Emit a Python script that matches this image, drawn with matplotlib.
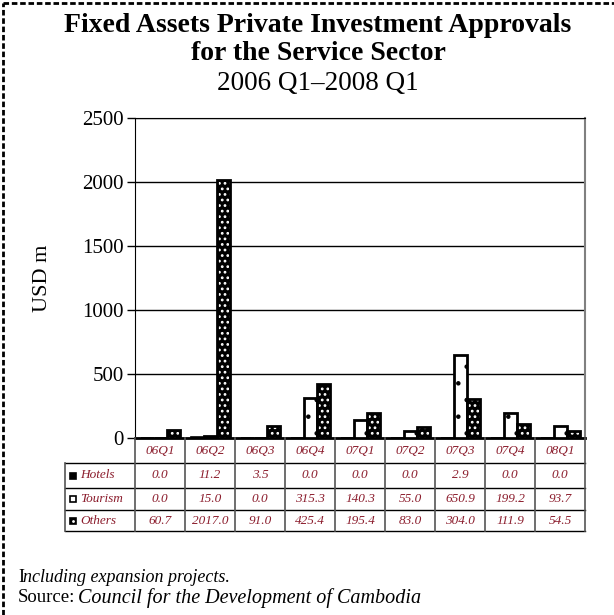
import matplotlib
matplotlib.use('Agg')
import matplotlib.pyplot as plt
import numpy as np
from matplotlib.lines import Line2D

QUARTERS: list[str] = ['06Q1', '06Q2', '06Q3', '06Q4', '07Q1', '07Q2', '07Q3', '07Q4', '08Q1']
HOTELS: list[float] = [0.0, 11.2, 3.5, 0.0, 0.0, 0.0, 2.9, 0.0, 0.0]
TOURISM: list[float] = [0.0, 15.0, 0.0, 315.3, 140.3, 55.0, 650.9, 199.2, 93.7]
OTHERS: list[float] = [60.7, 2017.0, 91.0, 425.4, 195.4, 83.0, 304.0, 111.9, 54.5]
SERIES_NAMES: list[str] = ['Hotels', 'Tourism', 'Others']
Y_TICKS: list[int] = [0, 500, 1000, 1500, 2000, 2500]

SERIF = 'Liberation Serif'
RED = '#8b1c2c'
W, H = 614, 615

plt.rcParams['font.family'] = SERIF
plt.rcParams['hatch.linewidth'] = 1.2

fig = plt.figure(figsize=(W / 100, H / 100), dpi=100)


def fx(px: float) -> float:
    return px / W


def fy(px: float) -> float:
    return 1 - px / H


ax = fig.add_axes((fx(135), fy(438), fx(585) - fx(135), fy(118) - fy(438)))
x = np.arange(len(QUARTERS))
bw = 0.26

# hotels solid black
ax.bar(x - bw, HOTELS, bw, color='black', edgecolor='black', linewidth=1.2, zorder=3)
# tourism white with sparse dots
plt.rcParams['hatch.linewidth'] = 0.8
ax.bar(x, TOURISM, bw, color='white', edgecolor='black', hatch='.', linewidth=0, zorder=3)
ax.bar(x, TOURISM, bw, fill=False, edgecolor='black', linewidth=2, zorder=4)
# others black with white dots
plt.rcParams['hatch.linewidth'] = 1.2
ax.bar(x + bw, OTHERS, bw, color='black', edgecolor='white', hatch='...', linewidth=0, zorder=5)
ax.bar(x + bw, OTHERS, bw, fill=False, edgecolor='black', linewidth=2, zorder=6)

ax.set_xlim(-0.5, len(QUARTERS) - 0.5)
ax.set_ylim(0, 2500)
ax.set_yticks(Y_TICKS)
ax.set_yticklabels([str(t) for t in Y_TICKS], fontsize=15)
ax.set_xticks([])
ax.tick_params(axis='y', direction='out', length=6, width=1, pad=2)
ax.grid(axis='y', color='black', linewidth=1, zorder=0)
ax.set_axisbelow(True)
for s in ['left', 'top']:
    ax.spines[s].set_color('black')
ax.spines['right'].set_color('#808080')
ax.spines['right'].set_linewidth(1.5)
ax.spines['bottom'].set_linewidth(2)
ax.set_ylabel('USD m', fontsize=16, labelpad=22)

# data table under the chart
tax = fig.add_axes((fx(65), fy(531), fx(585) - fx(65), fy(438) - fy(531)))
left = -0.5 - 70 / 50
tax.set_xlim(left, len(QUARTERS) - 0.5)
rows_y = [438, 463, 488, 510, 531]
tax.set_ylim(531, 438)
tax.axis('off')

for yy in rows_y[1:]:
    tax.plot([left, len(QUARTERS) - 0.5], [yy, yy], color='black', lw=1, clip_on=False)
for i in range(len(QUARTERS) + 1):
    tax.plot([i - 0.5, i - 0.5], [438, 531], color='#555555', lw=1.2, clip_on=False)
tax.plot([left, left], [463, 531], color='#555555', lw=1.2, clip_on=False)

for i, q in enumerate(QUARTERS):
    tax.text(i, (438 + 463) / 2, q, ha='center', va='center', fontsize=9.5,
             style='italic', color=RED)

for r, (name, vals) in enumerate(zip(SERIES_NAMES, [HOTELS, TOURISM, OTHERS])):
    yc = (rows_y[r + 1] + rows_y[r + 2]) / 2
    for i, v in enumerate(vals):
        tax.text(i, yc, f'{v:.1f}', ha='center', va='center', fontsize=9.5,
                 style='italic', color=RED)
    tax.text(left + 0.3, yc, name, ha='left', va='center', fontsize=9.5,
             style='italic', color=RED)
    face = 'white' if name == 'Tourism' else 'black'
    tax.plot([left + 0.16], [yc], marker='s', markersize=5, markerfacecolor=face,
             markeredgecolor='black', markeredgewidth=1.2, clip_on=False)
    if name == 'Others':
        tax.plot([left + 0.16], [yc], marker='.', markersize=2, color='white', clip_on=False)

# titles
fig.text(fx(318), fy(25), 'Fixed Assets Private Investment Approvals', ha='center', va='center',
         fontsize=20, fontweight='bold')
fig.text(fx(318), fy(54), 'for the Service Sector', ha='center', va='center',
         fontsize=20, fontweight='bold')
fig.text(fx(318), fy(84), '2006 Q1\u20132008 Q1', ha='center', va='center', fontsize=19.5)

# footnotes
fig.text(fx(18), fy(577), 'I', ha='left', va='center', fontsize=13)
fig.text(fx(23), fy(577), 'ncluding expansion projects.', ha='left', va='center', fontsize=13,
         style='italic')
fig.text(fx(18), fy(598), 'Source:', ha='left', va='center', fontsize=13.5)
fig.text(fx(78), fy(598), 'Council for the Development of Cambodia', ha='left', va='center',
         fontsize=14.5, style='italic')

# dashed frame
fig.add_artist(Line2D([fx(3), fx(3)], [0, fy(3)], color='black', lw=2, ls=(0, (2, 1))))
fig.add_artist(Line2D([fx(3), 1], [fy(3), fy(3)], color='black', lw=2, ls=(0, (2, 1))))

fig.savefig('out.png', dpi=100)
